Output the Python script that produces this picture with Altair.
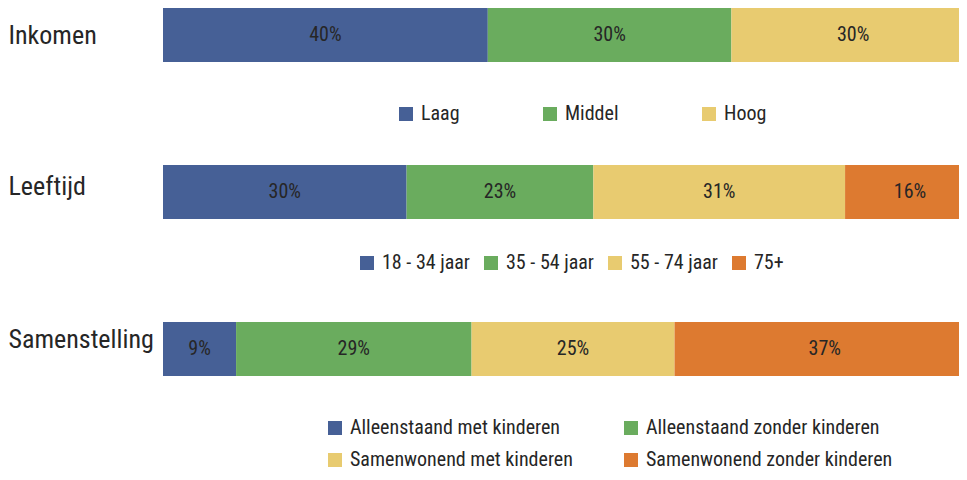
import altair as alt
import pandas as pd

groups = ["Inkomen", "Leeftijd", "Samenstelling"]

inkomen_cats = ["Laag", "Middel", "Hoog"]
inkomen_vals = [40, 30, 30]

leeftijd_cats = ["18 - 34 jaar", "35 - 54 jaar", "55 - 74 jaar", "75+"]
leeftijd_vals = [30, 23, 31, 16]

samen_cats = ["Alleenstaand met kinderen", "Alleenstaand zonder kinderen",
              "Samenwonend met kinderen", "Samenwonend zonder kinderen"]
samen_vals = [9, 29, 25, 37]

colors = ["#466096", "#6aac5e", "#e8cb70", "#dd7a30"]

FONT = "Roboto Condensed, Liberation Sans Narrow, DejaVu Sans Condensed, sans-serif"
WEIGHT = 400
TXT = "#262626"

rows = []
for g, cats, vals in [(groups[0], inkomen_cats, inkomen_vals),
                      (groups[1], leeftijd_cats, leeftijd_vals),
                      (groups[2], samen_cats, samen_vals)]:
    for i, (c, v) in enumerate(zip(cats, vals)):
        rows.append(dict(group=g, cat=c, value=v, idx=i))
df = pd.DataFrame(rows)

base = alt.Chart(df).transform_stack(
    stack="value", groupby=["group"], as_=["x0", "x1"],
    sort=[alt.SortField("idx", order="ascending")]
).transform_calculate(
    xm="(datum.x0 + datum.x1) / 2",
    label="datum.value + '%'"
)

label_offset = {
    "condition": [
        {"test": "datum.value == 'Leeftijd'", "value": -5},
        {"test": "datum.value == 'Samenstelling'", "value": -9},
    ],
    "value": 1,
}

y = alt.Y("group:N", sort=groups,
          scale=alt.Scale(paddingInner=0.656, paddingOuter=0),
          axis=alt.Axis(title=None, domain=False, ticks=False, tickSize=0,
                        labelAlign="left", labelPadding=155, labelFontSize=26,
                        labelFont=FONT, labelFontWeight=WEIGHT, labelColor=TXT,
                        labelOffset=label_offset, labelBaseline="middle"))
# the bars run past the right edge of the picture, as in the original
xscale = alt.Scale(domain=[0, 98.03], nice=False, zero=False)

legend_specs = {
    "Inkomen": dict(legendX=233, legendY=96, columns=3, columnPadding=80, rowPadding=0),
    "Leeftijd": dict(legendX=194, legendY=245, columns=4, columnPadding=11, rowPadding=0),
    "Samenstelling": dict(legendX=162, legendY=410, columns=2, columnPadding=48, rowPadding=12),
}

layers = []
for g, cats in [(groups[0], inkomen_cats), (groups[1], leeftijd_cats), (groups[2], samen_cats)]:
    spec = legend_specs[g]
    layers.append(
        base.transform_filter(alt.datum.group == g).mark_bar(clip=True).encode(
            x=alt.X("x0:Q", scale=xscale, axis=None),
            x2="x1:Q",
            y=y,
            color=alt.Color("cat:N", sort=cats,
                            scale=alt.Scale(domain=cats, range=colors[:len(cats)]),
                            legend=alt.Legend(title=None, orient="none", direction="horizontal",
                                              legendX=spec["legendX"], legendY=spec["legendY"],
                                              columns=spec["columns"],
                                              columnPadding=spec["columnPadding"],
                                              rowPadding=spec["rowPadding"],
                                              padding=0, symbolType="square", symbolSize=196,
                                              symbolStrokeWidth=0, labelOffset=5,
                                              labelFont=FONT, labelFontWeight=WEIGHT,
                                              labelFontSize=20,
                                              labelColor=TXT, labelLimit=0))
        )
    )

text = base.mark_text(font=FONT, fontWeight=WEIGHT, fontSize=20, color=TXT).encode(
    x=alt.X("xm:Q", scale=xscale, axis=None),
    y=y,
    text="label:N"
)

chart = alt.layer(*layers, text).resolve_scale(color="independent").properties(
    width=796, height=368,
    autosize=alt.AutoSizeParams(type="none"),
    padding={"left": 155, "top": 0, "right": 0, "bottom": 96}
).configure_view(stroke=None)

chart.save("out.html", embed_options={"renderer": "svg", "actions": False})
